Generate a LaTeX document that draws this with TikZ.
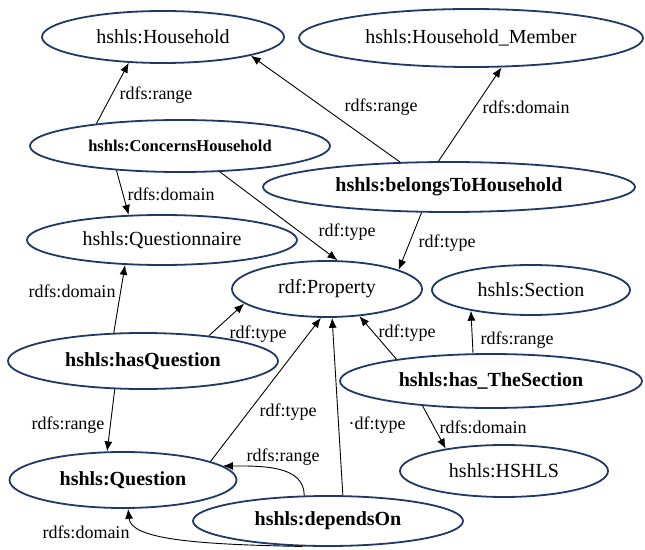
\documentclass[tikz,border=0pt]{standalone}
\usepackage{fontspec}
\setmainfont{Liberation Serif}
\usetikzlibrary{shapes.geometric,arrows.meta}
\definecolor{navy}{RGB}{32,56,100}
\begin{document}
\begin{tikzpicture}[x=1bp,y=-1bp,
  ent/.style={ellipse,draw=navy,line width=1.8bp,inner sep=0pt,font=\fontsize{20bp}{24bp}\selectfont},
  bent/.style={ent,font=\fontsize{20bp}{24bp}\selectfont\bfseries},
  rel/.style={draw=black,line width=0.9bp,-{Latex[length=10bp,width=8bp]}},
  lab/.style={font=\fontsize{18bp}{22bp}\selectfont,inner sep=0pt}]
\useasboundingbox (0,0) rectangle (645,550);
% entities
\node[ent,minimum width=242bp,minimum height=52bp] (HH) at (163,37) {hshls:Household};
\node[ent,minimum width=344bp,minimum height=58bp] (HM) at (471,38) {hshls:Household\_Member};
\node[bent,font=\fontsize{16.5bp}{20bp}\selectfont\bfseries,minimum width=300bp,minimum height=52bp] (CH) at (180,146) {hshls:ConcernsHousehold};
\node[bent,minimum width=372bp,minimum height=50bp] (BH) at (449,187) {hshls:belongsToHousehold};
\node[ent,minimum width=270bp,minimum height=50bp] (QN) at (162,240) {hshls:Questionnaire};
\node[ent,minimum width=190bp,minimum height=56bp] (RP) at (327,289) {rdf:Property};
\node[ent,minimum width=198bp,minimum height=50bp] (SE) at (531,290) {hshls:Section};
\node[bent,minimum width=270bp,minimum height=56bp] (HQ) at (143,361) {hshls:hasQuestion};
\node[bent,minimum width=302bp,minimum height=54bp] (TS) at (491,381) {hshls:has\_TheSection};
\node[bent,minimum width=227bp,minimum height=56bp] (QU) at (123,480) {hshls:Question};
\node[ent,minimum width=208bp,minimum height=52bp] (HS) at (504,471) {hshls:HSHLS};
\node[bent,minimum width=270bp,minimum height=50bp] (DO) at (328,521) {hshls:dependsOn};
% connectors
\draw[rel] (CH.165.8) -- (HH.217.1);
\draw[rel] (BH.153.4) -- (HH.348.9);
\draw[rel] (BH.112.2) -- (HM.316);
\draw[rel] (CH.201.8) -- (QN.143.7);
\draw[rel] (CH.327.9) -- (RP.70.5);
\draw[rel] (BH.223.9) -- (RP.15.8);
\draw[rel] (HQ.136) -- (QN.214);
\draw[rel] (HQ.21.8) -- (RP.190);
\draw[rel] (HQ.225) -- (QU.119.7);
\draw[rel] (QU.12.9) -- (RP.258);
\draw[rel] (DO.60.5) -- (RP.280.3);
\draw[rel] (TS.167.4) -- (RP.320.8);
\draw[rel] (TS.123.7) -- (SE.199.1);
\draw[rel] (TS.200.1) -- (HS.159.6);
\draw[rel] (DO.133.3) .. controls +(0,-30) and +(40,0) .. (QU.8.1);
\draw[rel] (DO.225) .. controls +(-110,-2) and +(3,30) .. (QU.280.1);
% labels
\node[lab] (l1) at (156,95) {rdfs:range};
\node[lab] (l2) at (381,107) {rdfs:range};
\node[lab] (l3) at (526,107) {rdfs:domain};
\node[lab] (l4) at (171,194) {rdfs:domain};
\node[lab] (l5) at (347,232) {rdf:type};
\node[lab] (l6) at (447,243) {rdf:type};
\node[lab] (l7) at (72,291) {rdfs:domain};
\node[lab] (l8) at (258,334) {rdf:type};
\node[lab] (l9) at (68,425) {rdfs:range};
\node[lab] (l10) at (288,412) {rdf:type};
\node[lab] (l11) at (283,457) {rdfs:range};
\node[lab] (l12) at (86,532) {rdfs:domain};
\node[lab] (l13) at (377,425) {·df:type};
\node[lab] (l14) at (407,333) {rdf:type};
\node[lab] (l15) at (517,340) {rdfs:range};
\node[lab] (l16) at (483,427) {rdfs:domain};
\end{tikzpicture}
\end{document}
